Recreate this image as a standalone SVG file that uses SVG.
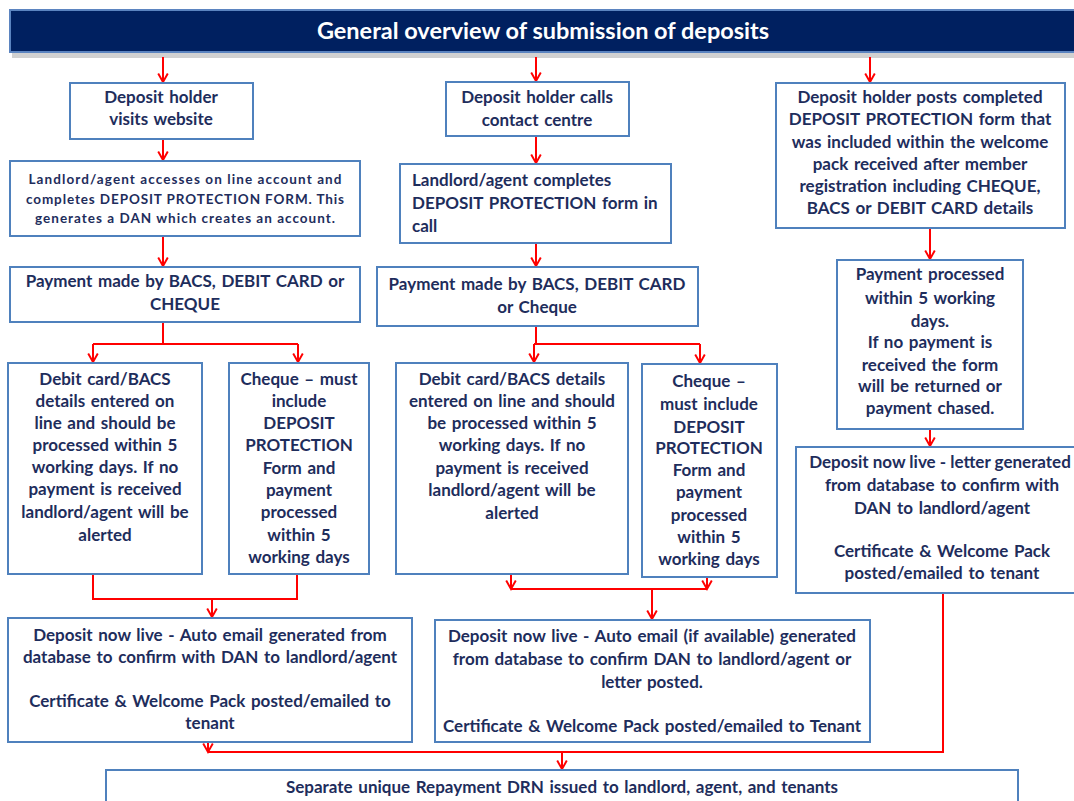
<svg xmlns="http://www.w3.org/2000/svg" width="1074" height="801" viewBox="0 0 1074 801">
<style>
.box{fill:#fff;stroke:#4F81BD;stroke-width:2}
.t{font-family:Lato,"Liberation Sans",sans-serif;font-weight:bold;font-size:17px;word-spacing:1.5px;fill:#1E2D5C;text-anchor:middle}
.s{font-size:13.5px;word-spacing:0}
.l{text-anchor:start}
.c{stroke:#FF0000;stroke-width:2;fill:none}
.a{stroke:#FF0000;stroke-width:2;fill:none;marker-end:url(#ah)}
.title{font-family:Lato,"Liberation Sans",sans-serif;font-weight:bold;font-size:23.5px;fill:#fff;text-anchor:middle}
</style>
<defs>
<marker id="ah" markerUnits="userSpaceOnUse" markerWidth="12" markerHeight="12" refX="8" refY="5" orient="auto" viewBox="0 0 10 10">
<path d="M1,1 L8,5 L1,9" fill="none" stroke="#FF0000" stroke-width="1.6"/>
</marker>
</defs>
<rect width="1074" height="801" fill="#fff"/>
<g id="title">
<rect x="12" y="52" width="1070" height="6" fill="#999" opacity="0.45"/>
<rect x="10" y="10" width="1075" height="42" fill="#002060" stroke="#5B84C0" stroke-width="2"/>
<text class="title" x="543" y="39">General overview of submission of deposits</text>
</g>
<g id="connectors">
<path class="a" d="M163,57 V82"/>
<path class="a" d="M536,57 V81"/>
<path class="a" d="M870,57 V82"/>
<path class="a" d="M163,139 V160"/>
<path class="a" d="M163,236 V266"/>
<path class="c" d="M163,322 V344 M93,344 H298"/>
<path class="a" d="M93,344 V362"/>
<path class="a" d="M298,344 V362"/>
<path class="c" d="M93,574 V599 H297 V574"/>
<path class="a" d="M212,599 V617"/>
<path class="a" d="M536,136 V163"/>
<path class="a" d="M536,243 V266"/>
<path class="c" d="M536,326 V344 M534,344 H700"/>
<path class="a" d="M534,344 V362"/>
<path class="a" d="M700,344 V363"/>
<path class="a" d="M511,574 V589"/>
<path class="a" d="M707,577 V589"/>
<path class="c" d="M511,589 H707"/>
<path class="a" d="M652,589 V619"/>
<path class="a" d="M930,228 V259"/>
<path class="a" d="M930,429 V446"/>
<path class="c" d="M943,593 V752 H208"/>
<path class="a" d="M208,742 V752"/>
<path class="a" d="M562,752 V769"/>
</g>
<g id="n1">
<rect class="box" x="70" y="83" width="183" height="56"/>
<text class="t" x="161"><tspan x="161" y="103">Deposit  holder</tspan><tspan x="161" y="125">visits website</tspan></text>
</g>
<g id="n2">
<rect class="box" x="10" y="161" width="350" height="75"/>
<text class="t s" x="185"><tspan x="185" y="184" textLength="313" lengthAdjust="spacing">Landlord/agent  accesses on line account and</tspan><tspan x="185" y="204" textLength="318" lengthAdjust="spacing">completes DEPOSIT PROTECTION  FORM.  This</tspan><tspan x="185" y="223" textLength="300" lengthAdjust="spacing">generates  a DAN  which creates an account.</tspan></text>
</g>
<g id="n3">
<rect class="box" x="10" y="267" width="350" height="55"/>
<text class="t" x="185"><tspan x="185" y="287">Payment made by BACS, DEBIT CARD or</tspan><tspan x="185" y="310">CHEQUE</tspan></text>
</g>
<g id="n4">
<rect class="box" x="8" y="363" width="194" height="211"/>
<text class="t" x="105"><tspan x="105" y="385">Debit card/BACS</tspan><tspan x="105" y="407">details entered on</tspan><tspan x="105" y="429">line and  should  be</tspan><tspan x="105" y="451">processed  within 5</tspan><tspan x="105" y="473">working days. If no</tspan><tspan x="105" y="495">payment is received</tspan><tspan x="105" y="518">landlord/agent  will be</tspan><tspan x="105" y="541">alerted</tspan></text>
</g>
<g id="n5">
<rect class="box" x="229" y="363" width="140" height="211"/>
<text class="t" x="299"><tspan x="299" y="385">Cheque – must</tspan><tspan x="299" y="407">include</tspan><tspan x="299" y="429">DEPOSIT</tspan><tspan x="299" y="451">PROTECTION</tspan><tspan x="299" y="474">Form and</tspan><tspan x="299" y="496">payment</tspan><tspan x="299" y="518">processed</tspan><tspan x="299" y="541">within 5</tspan><tspan x="299" y="563">working days</tspan></text>
</g>
<g id="n6">
<rect class="box" x="8" y="618" width="404" height="124"/>
<text class="t" x="210"><tspan x="210" y="641">Deposit  now live - Auto email generated from</tspan><tspan x="210" y="663">database to confirm with DAN to landlord/agent</tspan><tspan x="210" y="707">Certificate &amp; Welcome Pack posted/emailed to</tspan><tspan x="210" y="729">tenant</tspan></text>
</g>
<g id="m1">
<rect class="box" x="446" y="82" width="183" height="54"/>
<text class="t" x="537"><tspan x="537" y="103">Deposit  holder calls</tspan><tspan x="537" y="126">contact centre</tspan></text>
</g>
<g id="m2">
<rect class="box" x="400" y="164" width="271" height="79"/>
<text class="t l" x="412"><tspan x="412" y="186">Landlord/agent  completes</tspan><tspan x="412" y="209">DEPOSIT PROTECTION  form in</tspan><tspan x="412" y="232">call</tspan></text>
</g>
<g id="m3">
<rect class="box" x="377" y="267" width="321" height="59"/>
<text class="t" x="537"><tspan x="537" y="290">Payment made by BACS, DEBIT CARD</tspan><tspan x="537" y="313">or Cheque</tspan></text>
</g>
<g id="m4">
<rect class="box" x="396" y="363" width="232" height="211"/>
<text class="t" x="512"><tspan x="512" y="385">Debit card/BACS  details</tspan><tspan x="512" y="407">entered on line and  should</tspan><tspan x="512" y="429">be processed  within  5</tspan><tspan x="512" y="451">working days.  If no</tspan><tspan x="512" y="474">payment is received</tspan><tspan x="512" y="496">landlord/agent  will be</tspan><tspan x="512" y="519">alerted</tspan></text>
</g>
<g id="m5">
<rect class="box" x="642" y="364" width="135" height="213"/>
<text class="t" x="709"><tspan x="709" y="387">Cheque –</tspan><tspan x="709" y="410">must include</tspan><tspan x="709" y="433">DEPOSIT</tspan><tspan x="709" y="454">PROTECTION</tspan><tspan x="709" y="476">Form and</tspan><tspan x="709" y="498">payment</tspan><tspan x="709" y="521">processed</tspan><tspan x="709" y="543">within 5</tspan><tspan x="709" y="565">working days</tspan></text>
</g>
<g id="m6">
<rect class="box" x="435" y="620" width="435" height="122"/>
<text class="t" x="652"><tspan x="652" y="642">Deposit  now live - Auto email (if available) generated</tspan><tspan x="652" y="665">from database to confirm DAN to landlord/agent or</tspan><tspan x="652" y="688">letter posted.</tspan><tspan x="652" y="732">Certificate &amp; Welcome Pack posted/emailed to Tenant</tspan></text>
</g>
<g id="r1">
<rect class="box" x="776" y="83" width="289" height="145"/>
<text class="t" x="920"><tspan x="920" y="103">Deposit  holder  posts  completed</tspan><tspan x="920" y="125">DEPOSIT PROTECTION  form that</tspan><tspan x="920" y="148">was included  within  the welcome</tspan><tspan x="920" y="170">pack received after member</tspan><tspan x="920" y="192">registration including CHEQUE,</tspan><tspan x="920" y="214">BACS or DEBIT  CARD details</tspan></text>
</g>
<g id="r2">
<rect class="box" x="837" y="260" width="186" height="169"/>
<text class="t" x="930"><tspan x="930" y="280">Payment processed</tspan><tspan x="930" y="304">within 5 working</tspan><tspan x="930" y="327">days.</tspan><tspan x="930" y="348">If no payment is</tspan><tspan x="930" y="371">received the form</tspan><tspan x="930" y="392">will be returned or</tspan><tspan x="930" y="414">payment chased.</tspan></text>
</g>
<g id="r3">
<rect class="box" x="796" y="447" width="292" height="146"/>
<text class="t" x="942"><tspan x="940" y="468" style="word-spacing:0">Deposit now live - letter generated</tspan><tspan x="942" y="491">from database to confirm with</tspan><tspan x="942" y="514">DAN to landlord/agent</tspan><tspan x="942" y="557">Certificate &amp; Welcome Pack</tspan><tspan x="942" y="579">posted/emailed  to tenant</tspan></text>
</g>
<g id="b1">
<rect class="box" x="106" y="770" width="912" height="45"/>
<text class="t" x="562" y="793">Separate unique Repayment DRN issued to landlord, agent, and tenants</text>
</g>
</svg>
